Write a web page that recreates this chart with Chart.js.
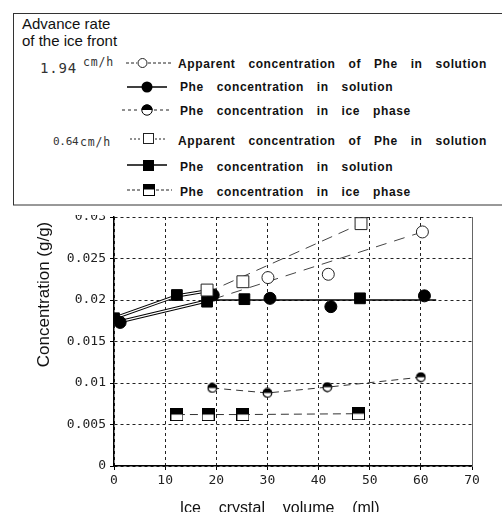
<!DOCTYPE html>
<html>
<head>
<meta charset="utf-8">
<script src="https://cdn.jsdelivr.net/npm/chart.js@4/dist/chart.umd.min.js"></script>
<style>
  html, body { margin:0; padding:0; background:#fff; width:502px; height:512px; overflow:hidden; }
  #wrap { position:relative; width:502px; height:512px; }
  #c { position:absolute; left:0; top:0; }
  #leg { position:absolute; left:0; top:0; }
  .lt { font-family:"Liberation Sans", Arial, sans-serif; font-weight:bold; font-size:12px; letter-spacing:0.6px; word-spacing:9px; fill:#111; }
  .hd { font-family:"Liberation Sans", Arial, sans-serif; font-size:15px; fill:#111; }
  .rt { font-family:"DejaVu Sans Mono", monospace; fill:#333; }
</style>
</head>
<body>
<div id="wrap">
<canvas id="c" width="502" height="512"></canvas>
<svg id="leg" width="502" height="216" xmlns="http://www.w3.org/2000/svg">
  <rect x="55" y="205" width="57" height="10" fill="#fff"/>
  <rect x="13.5" y="13.5" width="500" height="191.5" fill="#fff" stroke="#333" stroke-width="1"/>
  <text class="hd" x="22" y="29">Advance rate</text>
  <text class="hd" x="22" y="46">of the ice front</text>

  <text class="rt" x="40" y="73" font-size="14" letter-spacing="0.8">1.94</text>
  <text class="rt" x="83" y="66" font-size="11.5" letter-spacing="0.8">cm/h</text>
  <text class="rt" x="53" y="145" font-size="11" letter-spacing="-0.3">0.64</text>
  <text class="rt" x="80" y="146" font-size="11.5" letter-spacing="0.8">cm/h</text>

  <!-- row 1 -->
  <line x1="126" y1="63" x2="137" y2="63" stroke="#222" stroke-dasharray="3,2"/>
  <circle cx="142.5" cy="63" r="4.5" fill="#fff" stroke="#222"/>
  <line x1="148" y1="63" x2="173" y2="63" stroke="#222" stroke-dasharray="3,2"/>
  <text class="lt" x="178" y="68">Apparent concentration of Phe in solution</text>
  <!-- row 2 -->
  <line x1="127" y1="87" x2="167" y2="87" stroke="#000" stroke-width="1.5"/>
  <circle cx="147" cy="87" r="5.5" fill="#000"/>
  <text class="lt" x="180" y="91">Phe concentration in solution</text>
  <!-- row 3 -->
  <line x1="122" y1="110" x2="140" y2="110" stroke="#222" stroke-dasharray="3,3"/>
  <path d="M141.5,110 A5.5,5.5 0 0 1 152.5,110 Z" fill="#000"/>
  <circle cx="147" cy="110" r="5.2" fill="none" stroke="#000"/>
  <line x1="154" y1="110" x2="172" y2="110" stroke="#222" stroke-dasharray="3,3"/>
  <text class="lt" x="180" y="115">Phe concentration in ice phase</text>
  <!-- row 4 -->
  <line x1="130" y1="139" x2="142" y2="139" stroke="#222" stroke-dasharray="2,2"/>
  <rect x="143.5" y="133.5" width="10" height="10" fill="#fff" stroke="#222"/>
  <line x1="155" y1="139" x2="167" y2="139" stroke="#222" stroke-dasharray="2,2"/>
  <text class="lt" x="178" y="145">Apparent concentration of Phe in solution</text>
  <!-- row 5 -->
  <line x1="127" y1="165" x2="167" y2="165" stroke="#000" stroke-width="1.5"/>
  <rect x="143" y="160" width="11" height="11" fill="#000"/>
  <text class="lt" x="180" y="171">Phe concentration in solution</text>
  <!-- row 6 -->
  <line x1="127" y1="190" x2="140" y2="190" stroke="#222" stroke-dasharray="3,2"/>
  <rect x="143.5" y="184.5" width="11" height="11" fill="#fff" stroke="#000"/>
  <rect x="143.5" y="184.5" width="11" height="5" fill="#000"/>
  <line x1="156" y1="190" x2="172" y2="190" stroke="#222" stroke-dasharray="3,2"/>
  <text class="lt" x="180" y="196">Phe concentration in ice phase</text>
</svg>
</div>
<script>
// ---- axis ticks ----
const xTicks = [0, 10, 20, 30, 40, 50, 60, 70];
const xTickLabels = ['0', '10', '20', '30', '40', '50', '60', '70'];
const yTicks = [0, 0.005, 0.01, 0.015, 0.02, 0.025, 0.03];
const yTickLabels = ['0', '0.005', '0.01', '0.015', '0.02', '0.025', '0.03'];

// ---- 1.94 cm/h ----
const appCircX = [30.1, 41.9, 60.3];
const appCircY = [0.0227, 0.0231, 0.0282];
const appCircTrendX = [19.4, 60.3];
const appCircTrendY = [0.0201, 0.0282];
const solCircX = [1.2, 19.4, 30.5, 42.4, 60.7];
const solCircY = [0.0173, 0.0206, 0.0202, 0.0192, 0.0205];
const solCircTrendAX = [1.2, 18.2];
const solCircTrendAY = [0.0174, 0.0199];
const solCircTrendBX = [18.2, 63];
const solCircTrendBY = [0.0200, 0.0200];
const iceCircX = [19.2, 30.0, 41.7, 60.0];
const iceCircY = [0.0094, 0.0088, 0.0095, 0.0107];

// ---- 0.64 cm/h ----
const appSqX = [18.2, 25.2, 48.3];
const appSqY = [0.0212, 0.0222, 0.0292];
const appSqTrendX = [18.2, 48.3];
const appSqTrendY = [0.0209, 0.0292];
const solSqX = [0, 12.3, 18.2, 25.5, 48.1];
const solSqY = [0.0178, 0.0206, 0.0198, 0.0201, 0.0202];
const solSqTrendX = [0, 12.3, 18.2];
const solSqTrendY = [0.0178, 0.0205, 0.0211];
const iceSqX = [12.3, 18.4, 25.2, 47.8];
const iceSqY = [0.0062, 0.0062, 0.0062, 0.0063];

const pts = (xs, ys) => xs.map((x, i) => ({x: x, y: ys[i]}));

function halfCircle() {
  const c = document.createElement('canvas');
  c.width = 11; c.height = 11;
  const g = c.getContext('2d');
  g.fillStyle = '#fff';
  g.beginPath(); g.arc(5.5, 5.5, 4.5, 0, Math.PI * 2); g.fill();
  g.fillStyle = '#000';
  g.beginPath(); g.arc(5.5, 5.5, 4.5, Math.PI, 0); g.closePath(); g.fill();
  g.strokeStyle = '#000'; g.lineWidth = 1.2;
  g.beginPath(); g.arc(5.5, 5.5, 4.3, 0, Math.PI * 2); g.stroke();
  return c;
}
function halfSquare() {
  const c = document.createElement('canvas');
  c.width = 13; c.height = 13;
  const g = c.getContext('2d');
  g.fillStyle = '#fff'; g.fillRect(0.5, 0.5, 12, 12);
  g.fillStyle = '#000'; g.fillRect(0.5, 0.5, 12, 6);
  g.strokeStyle = '#000'; g.lineWidth = 1; g.strokeRect(0.5, 0.5, 12, 12);
  return c;
}

const lineDs = (data, opts, order) => Object.assign({
  data: data, showLine: true, pointRadius: 0, pointHoverRadius: 0,
  borderColor: '#000', borderWidth: 1, fill: false, tension: 0, order: order
}, opts);
const ptDs = (data, opts, order) => Object.assign({
  data: data, showLine: false, borderColor: '#000', borderWidth: 1, order: order
}, opts);

const datasets = [
  lineDs(pts(appSqTrendX, appSqTrendY), {borderColor:'#444', borderDash:[11,7]}, 20),
  lineDs(pts(appCircTrendX, appCircTrendY), {borderColor:'#444', borderDash:[11,8]}, 20),
  lineDs(pts(iceCircX, iceCircY), {borderColor:'#333', borderDash:[7,5]}, 20),
  lineDs(pts(iceSqX, iceSqY), {borderColor:'#333', borderDash:[8,5]}, 20),
  lineDs(pts(solSqTrendX, solSqTrendY), {borderWidth:3.2}, 19),
  lineDs(pts(solSqTrendX, solSqTrendY), {borderColor:'#fff', borderWidth:1.2}, 18),
  lineDs(pts(solCircTrendAX, solCircTrendAY), {borderWidth:3.2}, 17),
  lineDs(pts(solCircTrendAX, solCircTrendAY), {borderColor:'#fff', borderWidth:1.2}, 16),
  lineDs(pts(solCircTrendBX, solCircTrendBY), {borderWidth:1.6}, 15),
  ptDs(pts(iceCircX, iceCircY), {pointStyle: halfCircle()}, 5),
  ptDs(pts(iceSqX, iceSqY), {pointStyle: halfSquare()}, 5),
  ptDs(pts(solSqX, solSqY), {pointStyle:'rect', pointRadius:7.6, backgroundColor:'#000'}, 4),
  ptDs(pts(solCircX, solCircY), {pointStyle:'circle', pointRadius:6, backgroundColor:'#000'}, 3),
  ptDs(pts(appSqX, appSqY), {pointStyle:'rect', pointRadius:8.4, backgroundColor:'#fff', borderColor:'#222'}, 2),
  ptDs(pts(appCircX, appCircY), {pointStyle:'circle', pointRadius:6, backgroundColor:'#fff', borderColor:'#222'}, 1)
];

const tickFont = {family: '"DejaVu Sans Mono", monospace', size: 13};

new Chart(document.getElementById('c'), {
  type: 'scatter',
  data: { datasets: datasets },
  options: {
    responsive: false,
    animation: false,
    devicePixelRatio: 1,
    layout: { padding: {top: 217, left: 0, right: 30, bottom: 0} },
    plugins: { legend: {display: false}, tooltip: {enabled: false} },
    scales: {
      x: {
        type: 'linear', min: 0, max: 70,
        afterBuildTicks: s => { s.ticks = xTicks.map(v => ({value: v})); },
        afterFit: s => { s.height = 46; },
        ticks: { font: tickFont, color: '#222', padding: 3, maxRotation: 0,
                 callback: (v) => xTickLabels[xTicks.indexOf(v)] },
        grid: { color: '#222', lineWidth: 1, tickLength: 4, tickColor: '#000', drawTicks: true },
        border: { display: true, color: '#000', width: 1.5, dash: [3, 3] },
        title: { display: true, text: 'Ice    crystal    volume    (ml)      ',
                 font: {family: '"Liberation Sans", Arial, sans-serif', size: 16},
                 color: '#111', padding: {top: 0, bottom: -6} }
      },
      y: {
        type: 'linear', min: 0, max: 0.03, position: 'left',
        afterBuildTicks: s => { s.ticks = yTicks.map(v => ({value: v})); },
        afterFit: s => { s.width = 114; },
        ticks: { font: tickFont, color: '#222', padding: 4,
                 callback: (v) => { const i = yTicks.findIndex(t => Math.abs(t - v) < 1e-9); return i >= 0 ? yTickLabels[i] : ''; } },
        grid: { color: '#222', lineWidth: 1, tickLength: 4, tickColor: '#000', drawTicks: true },
        border: { display: true, color: '#000', width: 1.5, dash: [3, 3] },
        title: { display: true, text: 'Concentration (g/g) ', align: 'end',
                 font: {family: '"Liberation Sans", Arial, sans-serif', size: 17},
                 color: '#111', padding: {top: 34, bottom: 0} }
      },
      y2: {
        type: 'linear', min: 0, max: 0.03, position: 'right',
        afterFit: s => { s.width = 0; },
        ticks: { display: false },
        grid: { drawOnChartArea: false, drawTicks: false },
        border: { display: true, color: '#666', width: 1 }
      }
    }
  }
});
</script>
</body>
</html>
